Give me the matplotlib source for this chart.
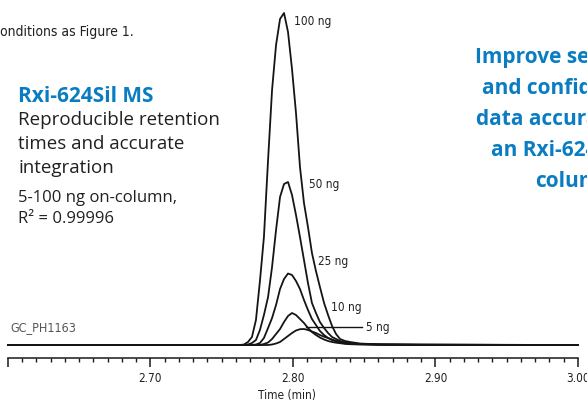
import matplotlib
matplotlib.use("Agg")
import matplotlib.pyplot as plt
from matplotlib.ticker import MultipleLocator
from matplotlib import font_manager

# condensed face for the small chart labels
fonts = font_manager.fontManager.ttflist
if any(f.name == "Liberation Sans Narrow" for f in fonts):
    narrow = dict(fontfamily="Liberation Sans Narrow")
else:
    narrow = dict(fontfamily="DejaVu Sans", fontstretch="condensed")
humanist = "Open Sans"

# retention time (min) and detector response (arbitrary units, baseline = 0)
time_min = [2.6000, 2.7347, 2.7628, 2.7656, 2.7684, 2.7712, 2.7740, 2.7768, 2.7796,
            2.7825, 2.7853, 2.7881, 2.7909, 2.7937, 2.7965, 2.7993, 2.8021, 2.8049,
            2.8077, 2.8105, 2.8133, 2.8161, 2.8189, 2.8218, 2.8246, 2.8274, 2.8302,
            2.8330, 2.8365, 2.8400, 2.8470, 2.8611, 2.8891, 3.0000]

resp_100ng = [0, 0, 0, 0.5, 3, 8, 25, 64, 108, 185, 255, 300, 326, 332, 313, 276, 232,
              178, 142, 118, 92, 74, 58, 42, 30, 19, 11, 6, 4, 3, 1.5, 0.5, 0.3, 0]
resp_50ng = [0, 0, 0, 0, 0.5, 2, 5, 15, 30, 48, 78, 115, 148, 161, 163, 150, 130,
             108, 85, 62, 42, 32, 23, 17, 12, 8, 6, 4, 2.5, 1.5, 1, 0.5, 0.3, 0]
resp_25ng = [0, 0, 0, 0, 0, 0, 0.5, 2, 7, 17, 27, 40, 56, 66, 71.5, 70, 64, 56, 45,
             35, 26, 20, 14, 10, 7, 5, 3.5, 2.5, 1.5, 1, 0.8, 0.4, 0.2, 0]
resp_10ng = [0, 0, 0, 0, 0, 0, 0, 0, 1, 2.5, 6, 11, 16, 23, 29, 32, 30, 26, 22, 17,
             13, 10, 7.5, 5.5, 4, 3, 2.3, 1.8, 1.2, 0.8, 0.5, 0.3, 0.2, 0]
resp_5ng = [0, 0, 0, 0, 0, 0, 0, 0, 0, 0, 0.5, 1.5, 3, 6, 9, 12, 14.5, 15.8, 16, 15,
            13.5, 12, 10, 8.3, 7, 5.5, 4.2, 3.3, 2.4, 1.8, 1, 0.5, 0.2, 0]

traces = [resp_100ng, resp_50ng, resp_25ng, resp_10ng, resp_5ng]

major_ticks = [2.60, 2.70, 2.80, 2.90, 3.00]
major_labels = ["", "2.70", "2.80", "2.90", "3.00"]

W, H = 587, 401
fig = plt.figure(figsize=(W / 100, H / 100), dpi=100)
ax = fig.add_axes([0, 0, 1, 1])

for r in traces:
    ax.plot(time_min, r, color="#151515", lw=1.3, solid_capstyle="round",
            solid_joinstyle="round")

# leader line for the 5 ng label
ax.plot([2.8091, 2.8484], [18, 18], color="#151515", lw=1.0)

ax.set_xlim(2.594386, 3.006316)
ax.set_ylim(-56, 345)
for s in ["top", "left", "right"]:
    ax.spines[s].set_visible(False)
ax.spines["bottom"].set_position(("data", -12.7))
ax.spines["bottom"].set_bounds(2.60, 3.00)
ax.spines["bottom"].set_linewidth(1.1)
ax.spines["bottom"].set_color("#1a1a1a")
ax.set_yticks([])
ax.set_xticks(major_ticks)
ax.set_xticklabels(major_labels, fontsize=8.5, color="#231f20", **narrow)
ax.xaxis.set_minor_locator(MultipleLocator(0.01))
ax.tick_params(axis="x", which="major", direction="out", length=6.5, width=1.1,
               color="#1a1a1a", pad=4)
ax.tick_params(axis="x", which="minor", direction="out", length=3, width=1.0,
               color="#1a1a1a")
ax.patch.set_visible(False)


def px(x, y):
    return x / W, 1 - y / H


fig.text(*px(287, 396), "Time (min)", fontsize=8.5, color="#231f20",
         ha="center", va="center", **narrow)

# peak labels
peak_labels = [("100 ng", 294, 21), ("50 ng", 309, 184), ("25 ng", 318, 262),
               ("10 ng", 331, 307), ("5 ng", 366, 328)]
for txt, x, y in peak_labels:
    fig.text(*px(x, y), txt, fontsize=8.5, color="#231f20", ha="left", va="center",
             **narrow)

fig.text(*px(10, 328), "GC_PH1163", fontsize=9, color="#555555", ha="left",
         va="center", **narrow)

fig.text(*px(0, 32), "onditions as Figure 1.", fontsize=10, color="#231f20",
         ha="left", va="center", **narrow)

blue = "#0a7dc2"
fig.text(*px(18, 97), "Rxi-624Sil MS", fontfamily=humanist, fontweight="bold",
         fontsize=15, color=blue, ha="left", va="center")
for i, line in enumerate(["Reproducible retention", "times and accurate", "integration"]):
    fig.text(*px(18, 120 + 24 * i), line, fontfamily=humanist, fontsize=13.5,
             color="#231f20", ha="left", va="center")
fig.text(*px(18, 198), "5-100 ng on-column,", fontfamily=humanist, fontsize=12,
         color="#231f20", ha="left", va="center")
fig.text(*px(18, 219), "R² = 0.99996", fontfamily=humanist, fontsize=12,
         color="#231f20", ha="left", va="center")

right_lines = ["Improve sensitivity", "and confidence in", "data accuracy with",
               "an Rxi-624Sil MS", "column"]
for i, line in enumerate(right_lines):
    fig.text(*px(574.6, 58 + 31 * i), line, fontfamily=humanist, fontweight="bold",
             fontsize=15, color=blue, ha="center", va="center")

fig.savefig("out.png", dpi=100)
